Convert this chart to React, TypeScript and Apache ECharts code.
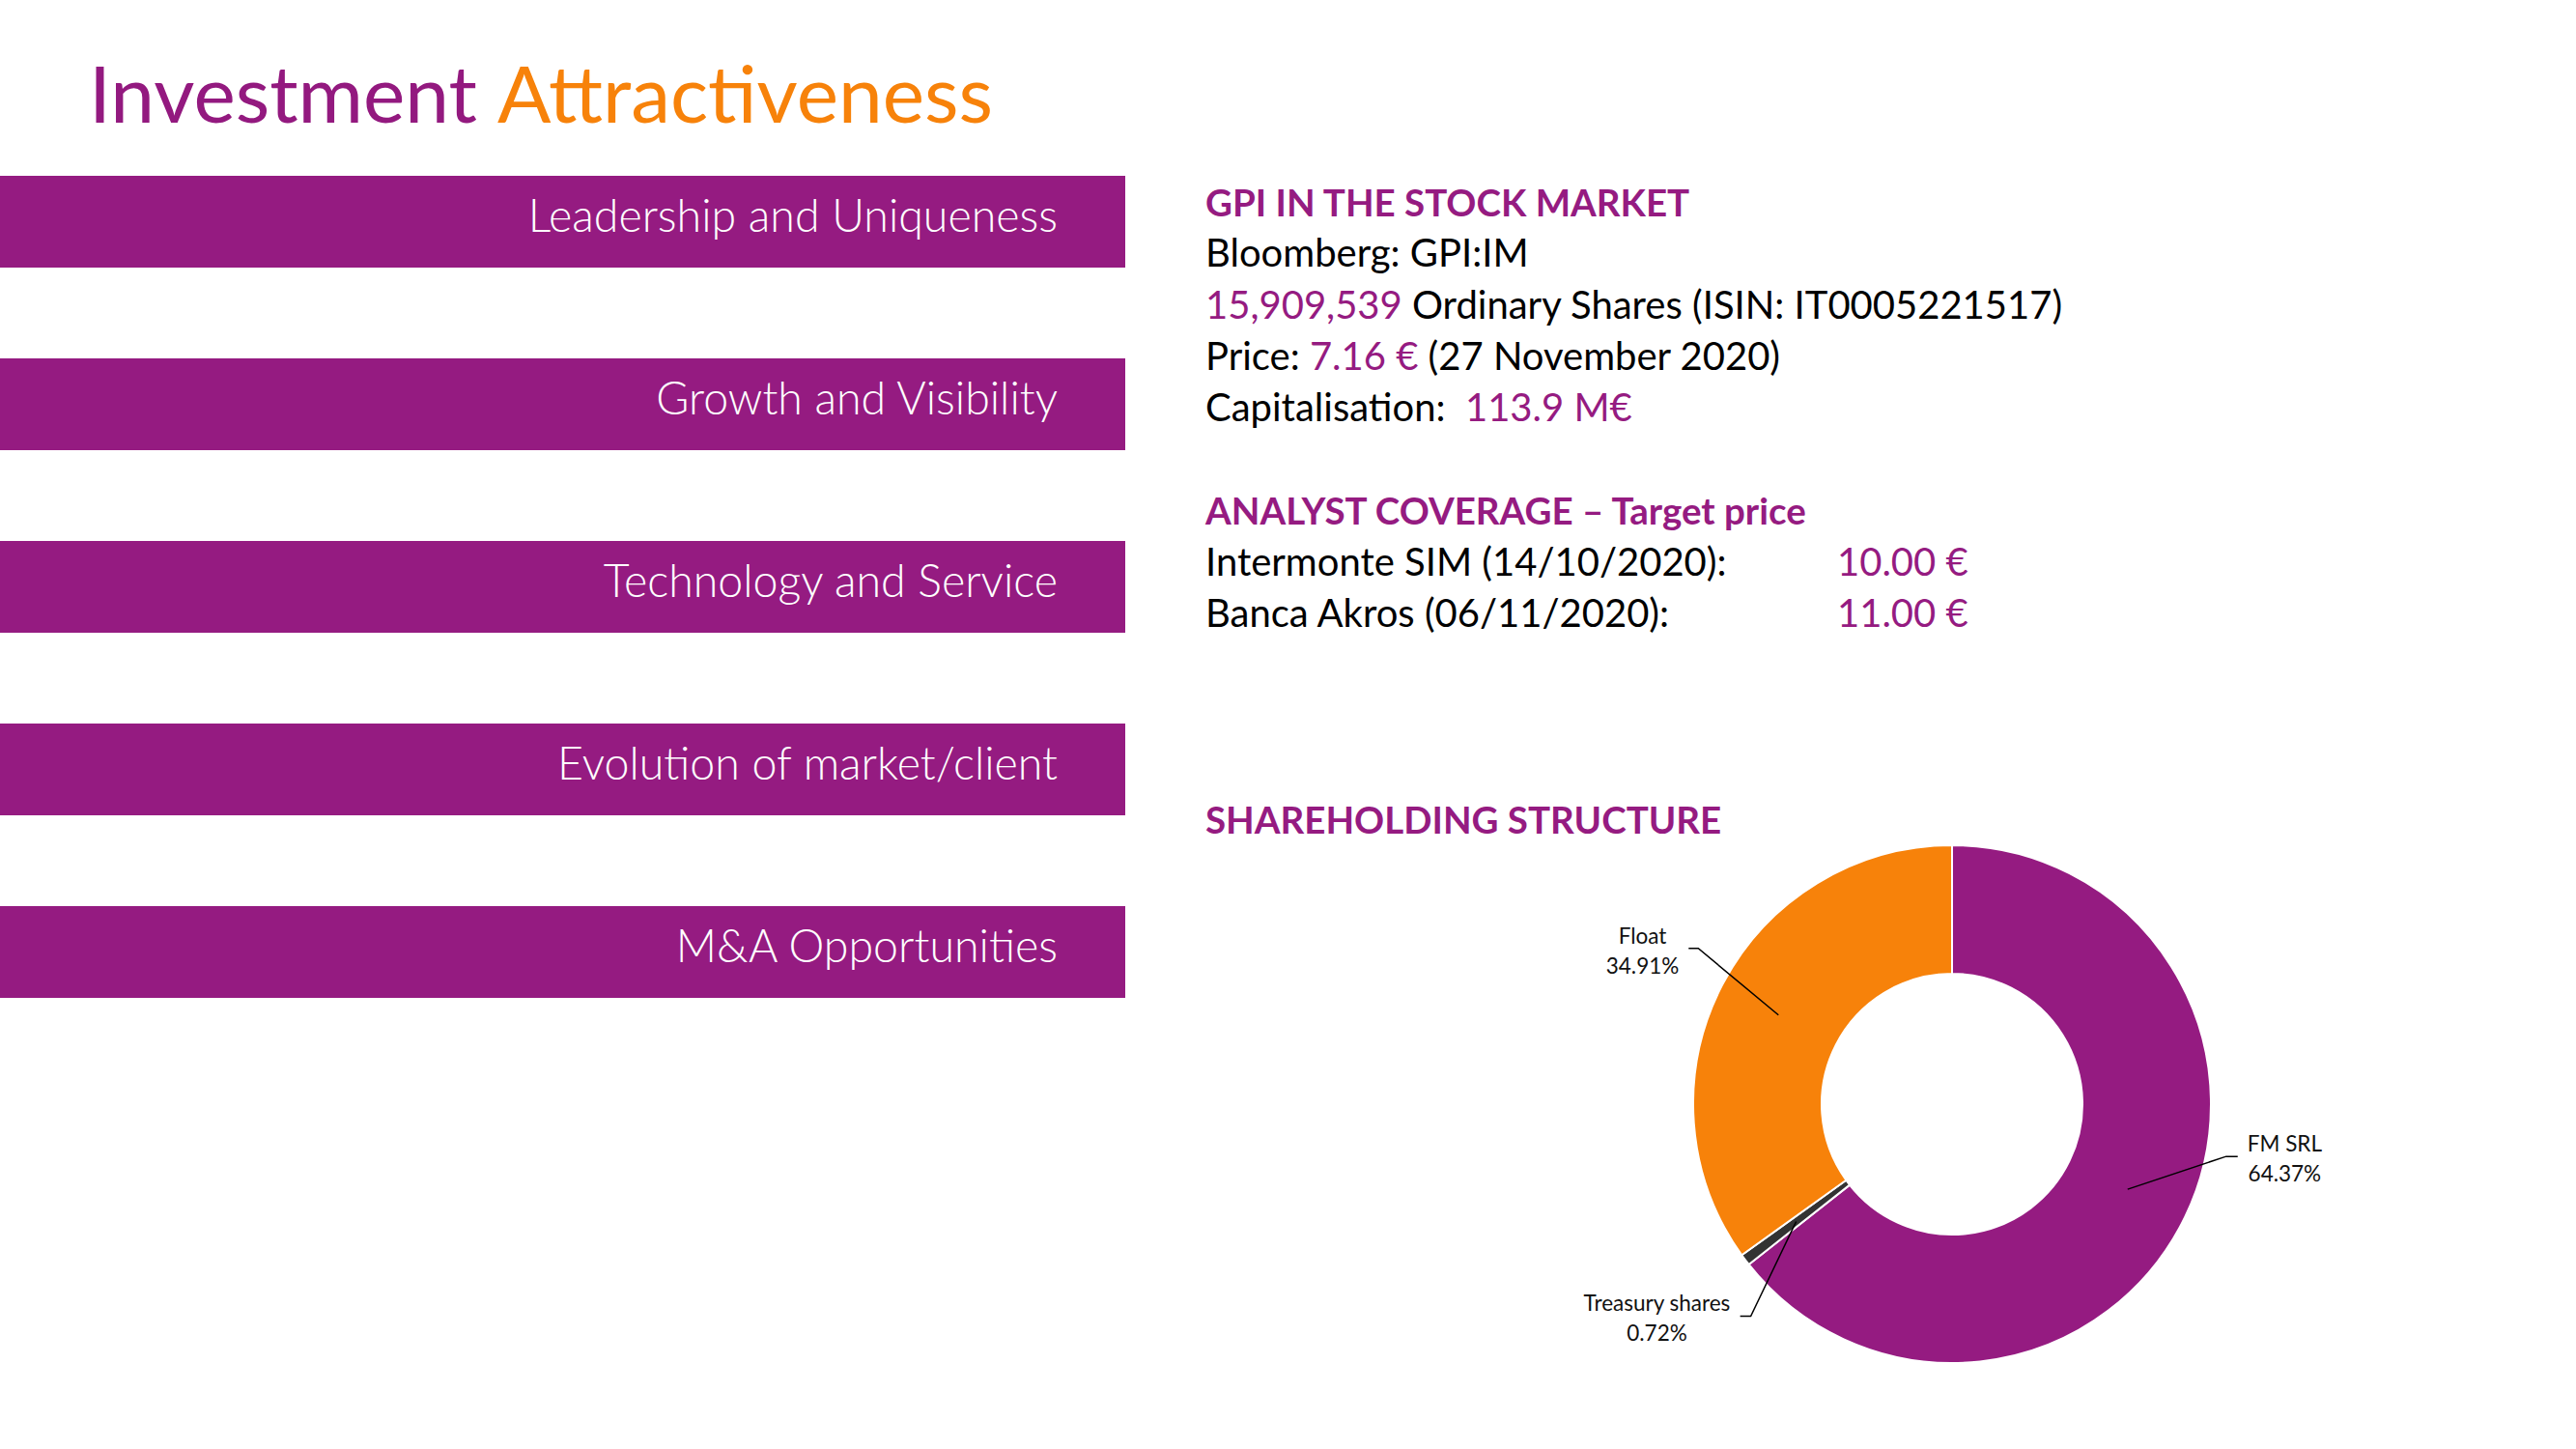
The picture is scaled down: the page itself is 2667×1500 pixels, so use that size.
import React, { useEffect, useRef } from "react";
import * as echarts from "echarts";

// ---------- content ----------
const titleParts = ["Investment", "Attractiveness"];
const pillars = [
  "Leadership and Uniqueness",
  "Growth and Visibility",
  "Technology and Service",
  "Evolution of market/client",
  "M&A Opportunities",
];
const stockHeading = "GPI IN THE STOCK MARKET";
const bloombergLine = "Bloomberg: GPI:IM";
const sharesCount = "15,909,539";
const sharesText = "Ordinary Shares (ISIN: IT0005221517)";
const priceValue = "7.16 €";
const priceDate = "(27 November 2020)";
const capValue = "113.9 M€";
const analystHeading = "ANALYST COVERAGE – Target price";
const analysts = ["Intermonte SIM (14/10/2020):", "Banca Akros (06/11/2020):"];
const targetPrices = ["10.00 €", "11.00 €"];
const shareholdingHeading = "SHAREHOLDING STRUCTURE";
const holders = ["FM SRL", "Treasury shares", "Float"];
const holdingPct = [64.37, 0.72, 34.91];

// ---------- style ----------
const FONT = "Lato, 'Noto Sans', sans-serif";
const PURPLE = "#951B81";
const ORANGE = "#F7820A";
const DARK = "#333333";
const sliceColors = [PURPLE, DARK, ORANGE];
const leaderBend = [
  [102, -34],
  [-47, 98],
  [-83, -69],
];
const leaderTail = [12, -11, -10];

export default function App() {
  const ref = useRef<HTMLDivElement>(null);

  useEffect(() => {
    document.body.style.margin = "0";
    const chart = echarts.init(ref.current!, null, { renderer: "svg" });

    const graphic: any[] = [];
    // Title
    const TFS = 82;
    graphic.push({
      type: "text",
      x: 92,
      y: 127 - 0.39 * TFS,
      style: {
        text: `{a|${titleParts[0]}} {b|${titleParts[1]}}`,
        fontFamily: FONT,
        fontSize: TFS,
        fontWeight: 400,
        verticalAlign: "middle",
        align: "left",
        rich: {
          a: { fill: "#93197F", fontFamily: FONT, fontSize: TFS, fontWeight: 400 },
          b: { fill: ORANGE, fontFamily: FONT, fontSize: TFS, fontWeight: 400 },
        },
      },
    });
    // Pillar banners
    const PFS = 46.5;
    pillars.forEach((p, i) => {
      const top = 182 + i * 189;
      graphic.push({
        type: "rect",
        shape: { x: 0, y: top, width: 1165, height: 95 },
        style: { fill: PURPLE },
      });
      graphic.push({
        type: "text",
        x: 1095,
        y: top + 58 - 0.39 * PFS,
        style: {
          text: p,
          fill: "#ffffff",
          fontFamily: FONT,
          fontSize: PFS,
          fontWeight: 300,
          align: "right",
          verticalAlign: "middle",
        },
      });
    });

    const TX = 1248;
    const FS = 40;
    const HFS = 38.5;
    const line = (y: number, text: string, rich?: any, bold?: boolean, fill = "#000") => {
      const fs = bold ? HFS : FS;
      return {
        type: "text",
        x: TX,
        y: y - 0.39 * fs,
        style: {
          text,
          fill,
          fontFamily: FONT,
          fontSize: fs,
          fontWeight: bold ? 700 : 400,
          align: "left",
          verticalAlign: "middle",
          rich,
        },
      };
    };
    const richPK = {
      p: { fill: PURPLE, fontFamily: FONT, fontSize: FS },
      k: { fill: "#000", fontFamily: FONT, fontSize: FS },
    };
    graphic.push(line(224, stockHeading, undefined, true, PURPLE));
    graphic.push(line(277, bloombergLine));
    graphic.push(line(331, `{p|${sharesCount}} {k|${sharesText}}`, richPK));
    graphic.push(line(384, `{k|Price:} {p|${priceValue}} {k|${priceDate}}`, richPK));
    graphic.push(line(437, `{k|Capitalisation:}  {p|${capValue}}`, richPK));
    graphic.push(line(543, analystHeading, undefined, true, PURPLE));
    analysts.forEach((a, i) => {
      const b = 597 + i * 53;
      graphic.push(line(b, a));
      graphic.push({
        type: "text",
        x: 1902,
        y: b - 0.39 * FS,
        style: {
          text: targetPrices[i],
          fill: PURPLE,
          fontFamily: FONT,
          fontSize: FS,
          align: "left",
          verticalAlign: "middle",
        },
      });
    });
    graphic.push(line(863, shareholdingHeading, undefined, true, PURPLE));

    const pieData = holders.map((n, i) => ({
      name: n,
      value: holdingPct[i],
      itemStyle: { color: sliceColors[i] },
    }));

    chart.setOption({
      animation: false,
      graphic,
      series: [
        {
          type: "pie",
          center: [2021, 1143],
          radius: [135, 268],
          startAngle: 90,
          clockwise: true,
          silent: true,
          avoidLabelOverlap: false,
          label: { show: false },
          labelLine: { show: false },
          itemStyle: { borderColor: "#ffffff", borderWidth: 2 },
          data: pieData,
        },
        {
          type: "pie",
          center: [2021, 1143],
          radius: [0, 202],
          startAngle: 90,
          clockwise: true,
          silent: true,
          avoidLabelOverlap: false,
          z: 5,
          itemStyle: { color: "rgba(0,0,0,0)", borderWidth: 0 },
          label: {
            show: true,
            position: "outside",
            formatter: "{b}\n{c}%",
            fontFamily: FONT,
            fontSize: 22.5,
            lineHeight: 31,
            color: "#111111",
            align: "center",
          },
          labelLine: {
            show: true,
            length: 20,
            length2: 10,
            lineStyle: { color: "#000000", width: 1.5 },
          },
          labelLayout: (p: any) => {
            const pts = p.labelLinePoints;
            if (!pts) return {};
            const i = p.dataIndex;
            const a = pts[0];
            const b = [a[0] + leaderBend[i][0], a[1] + leaderBend[i][1]];
            const e = [b[0] + leaderTail[i], b[1]];
            const dir = Math.sign(leaderTail[i]);
            const w = p.labelRect.width;
            return {
              x: e[0] + dir * (10 + w / 2),
              y: e[1] + 2,
              align: "center",
              verticalAlign: "middle",
              labelLinePoints: [a, b, e],
            };
          },
          data: holders.map((n, i) => ({ name: n, value: holdingPct[i] })),
        },
      ],
    });

    return () => chart.dispose();
  }, []);

  return (
    <div
      ref={ref}
      style={{ position: "absolute", left: 0, top: 0, width: 2667, height: 1500, background: "#fff" }}
    />
  );
}
